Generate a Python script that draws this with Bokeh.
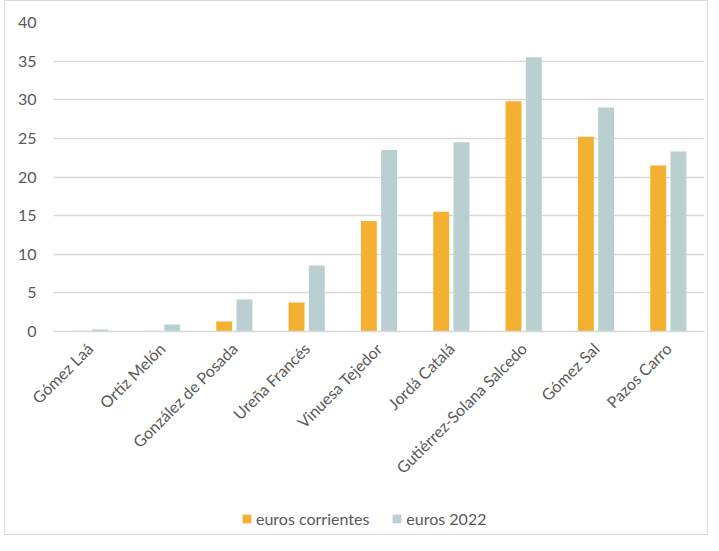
from bokeh.plotting import figure
from bokeh.models import FactorRange, Range1d, FixedTicker, Legend, LegendItem, ColumnDataSource
from bokeh.layouts import column
from bokeh.transform import dodge
from bokeh.embed import file_html
from bokeh.resources import INLINE
import math

categories = ["Gómez Laá", "Ortiz Melón", "González de Posada", "Ureña Francés",
              "Vinuesa Tejedor", "Jordá Catalá", "Gutiérrez-Solana Salcedo",
              "Gómez Sal", "Pazos Carro"]
euros_corrientes = [0.1, 0.1, 1.3, 3.75, 14.3, 15.5, 29.8, 25.2, 21.5]
euros_2022 = [0.25, 0.9, 4.15, 8.55, 23.5, 24.5, 35.5, 29.0, 23.3]
y_ticks = [0, 5, 10, 15, 20, 25, 30, 35, 40]
series_labels = ["euros corrientes", "euros 2022"]
series_colors = ["#F4B131", "#B9CFD2"]

src = ColumnDataSource(dict(cat=categories, a=euros_corrientes, b=euros_2022))

FONT = "Lato"
TXT = "#595959"

p = figure(x_range=FactorRange(*categories), y_range=Range1d(0, 40),
           width=702, height=495, output_backend="svg", toolbar_location=None,
           min_border_left=48, min_border_right=3, min_border_top=21, min_border_bottom=165)
p.outline_line_color = None

p.vbar(x=dodge("cat", -0.14, range=p.x_range), top="a", width=0.22, source=src,
       fill_color=series_colors[0], line_color=None)
p.vbar(x=dodge("cat", 0.14, range=p.x_range), top="b", width=0.22, source=src,
       fill_color=series_colors[1], line_color=None)

p.xgrid.grid_line_color = None
p.ygrid.grid_line_color = "#d9d9d9"
p.ygrid.grid_line_width = 1.5
p.yaxis.ticker = FixedTicker(ticks=y_ticks)
p.yaxis.axis_line_color = None
p.yaxis.major_tick_line_color = None
p.yaxis.minor_tick_line_color = None
p.yaxis.major_label_standoff = 11
p.xaxis.axis_line_color = "#d9d9d9"
p.xaxis.axis_line_width = 1.5
p.xaxis.major_tick_line_color = None
p.xaxis.minor_tick_line_color = None
p.xaxis.major_label_orientation = math.pi / 4
p.xaxis.major_label_standoff = 8
for ax in (p.xaxis, p.yaxis):
    ax.major_label_text_font = FONT
    ax.major_label_text_font_size = "16px"
    ax.major_label_text_color = TXT

# legend strip under the chart: its bars have zero width and lie outside the view; only the legend shows
q = figure(x_range=FactorRange(*categories), y_range=Range1d(-1000, -999),
           width=702, height=38, output_backend="svg", toolbar_location=None,
           x_axis_location=None, y_axis_location=None,
           min_border_left=0, min_border_right=0, min_border_top=0, min_border_bottom=0)
q.grid.visible = False
q.outline_line_color = None
l1 = q.vbar(x="cat", top="a", width=0, source=src, fill_color=series_colors[0], line_color=None)
l2 = q.vbar(x="cat", top="b", width=0, source=src, fill_color=series_colors[1], line_color=None)
legend = Legend(items=[LegendItem(label=series_labels[0], renderers=[l1]),
                       LegendItem(label=series_labels[1], renderers=[l2])],
                location=(188, 6), orientation="horizontal",
                glyph_width=11, glyph_height=11, label_standoff=4, spacing=22,
                padding=0, margin=0, border_line_color=None, background_fill_alpha=0,
                label_text_font=FONT, label_text_font_size="16px", label_text_color=TXT)
q.add_layout(legend)

layout = column(p, q, spacing=0, margin=(0, 0, 0, 4))
layout.styles = {"border": "1px solid #d9d9d9"}

open("out.html", "w").write(file_html(layout, INLINE))
